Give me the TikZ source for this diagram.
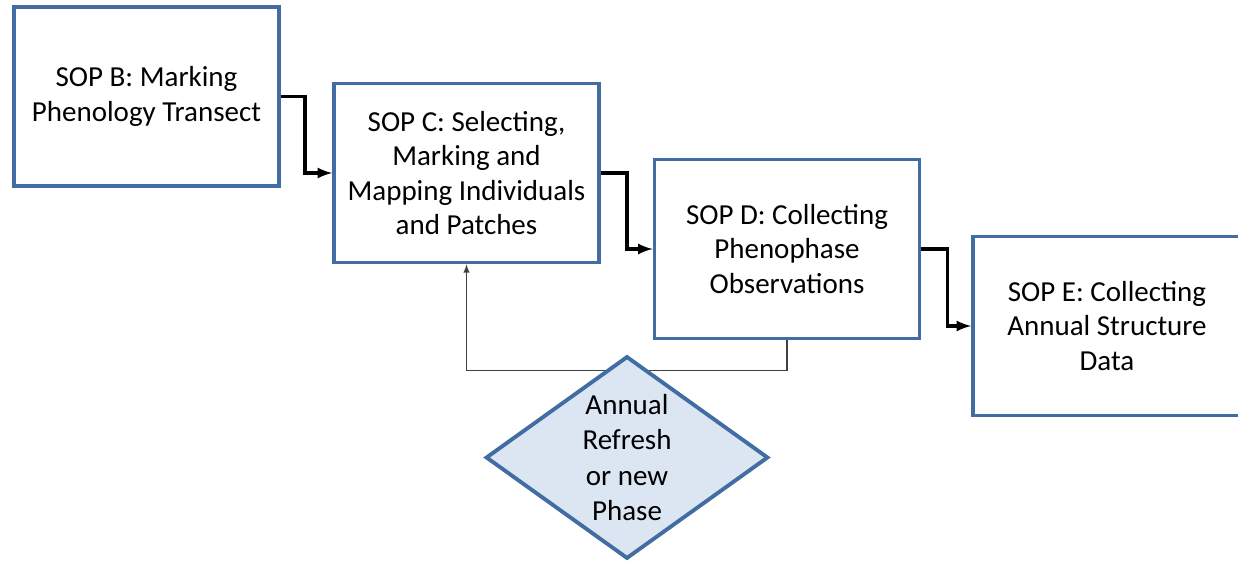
\documentclass[tikz,border=0pt]{standalone}
\usepackage{fontspec}
\setmainfont{Carlito}
\usetikzlibrary{shapes,arrows,positioning}
\usepackage{xcolor}
\definecolor{sopblue}{HTML}{416DA3}
\definecolor{sopfill}{HTML}{DCE6F2}

\begin{document}
\begin{tikzpicture}
      \tikzstyle{sop} = [rectangle, draw=sopblue, line width=2.2pt, fill=white, minimum width=5.3cm, minimum height=3.58cm, align=center, font=\fontsize{16.5}{19.5}\selectfont]
      \tikzstyle{flow} = [-latex, line width=1.8pt, black]
      \useasboundingbox (0,0) rectangle (24.76,-11.24);

      \node[sop] (sopb) at (2.93,-1.93) {SOP B: Marking\\Phenology Transect};
      \node[sop] (sopc) at (9.33,-3.46) {SOP C: Selecting,\\Marking and\\Mapping Individuals\\and Patches};
      \node[sop] (sopd) at (15.74,-4.98) {SOP D: Collecting\\Phenophase\\Observations};
      \node[sop, minimum width=5.36cm] (sope) at (22.14,-6.52) {SOP E: Collecting\\Annual Structure\\Data};

      \draw[flow] (sopb.east) -- ++(0.48,0) |- (sopc.west);
      \draw[flow] (sopc.east) -- ++(0.52,0) |- (sopd.west);
      \draw[flow] (sopd.east) -- ++(0.52,0) |- (sope.west);

      \draw[-latex, line width=0.6pt, black!75] (sopd.south) -- ++(0,-0.6) -| (sopc.south);

      \node[diamond, draw=sopblue, line width=2.2pt, fill=sopfill, aspect=1.39, inner sep=0pt, minimum width=5.65cm, minimum height=4.05cm, align=center, font=\fontsize{16.5}{20}\selectfont] (refresh) at (12.54,-9.15) {Annual\\Refresh\\or new\\Phase};
    \end{tikzpicture}
\end{document}
